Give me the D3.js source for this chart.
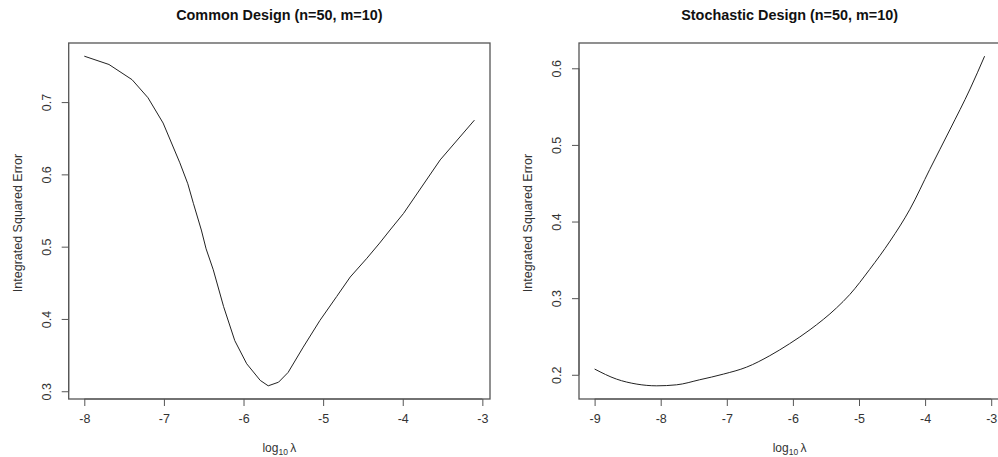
<!DOCTYPE html>
<html>
<head>
<meta charset="utf-8">
<script src="https://cdn.jsdelivr.net/npm/d3@7.9.0/dist/d3.min.js"></script>
<style>
  body { margin: 0; background: #fff; }
  svg { font-family: 'Liberation Sans', Arial, sans-serif; }
</style>
</head>
<body>
<svg id="chart"></svg>
<script>
// values (x = log10 lambda, y = integrated squared error)
const commonLambda = [-8.0, -7.69, -7.40, -7.20, -7.01, -6.80, -6.70, -6.63, -6.53, -6.47, -6.38, -6.25,
  -6.11, -5.96, -5.79, -5.69, -5.56, -5.44, -5.25, -5.04, -4.83, -4.66, -4.45, -4.29, -4.16, -3.99, -3.53, -3.10];
const commonISE = [0.7635, 0.752, 0.731, 0.706, 0.671, 0.616, 0.587, 0.560, 0.523, 0.497, 0.468, 0.417,
  0.370, 0.338, 0.315, 0.3075, 0.3125, 0.326, 0.361, 0.398, 0.431, 0.458, 0.484, 0.505, 0.523, 0.546, 0.620, 0.675];

const stochLambda = [-9.0, -8.67, -8.36, -8.06, -7.76, -7.41, -7.05, -6.70, -6.35, -6.05, -5.74, -5.34,
  -5.14, -4.84, -4.53, -4.23, -3.93, -3.62, -3.32, -3.10];
const stochISE = [0.2075, 0.1944, 0.1878, 0.1856, 0.1869, 0.1935, 0.2009, 0.2100, 0.2249, 0.2406, 0.2589, 0.2873,
  0.3047, 0.3374, 0.3745, 0.416, 0.468, 0.5207, 0.573, 0.6158];

const commonXTicks = [-8, -7, -6, -5, -4, -3];
const commonYTicks = [0.3, 0.4, 0.5, 0.6, 0.7];
const stochXTicks = [-9, -8, -7, -6, -5, -4, -3];
const stochYTicks = [0.2, 0.3, 0.4, 0.5, 0.6];

const titles = ['Common Design (n=50, m=10)', 'Stochastic Design (n=50, m=10)'];
const yLabel = 'Integrated Squared Error';

const width = 998;
const height = 457;

const svg = d3.select('#chart').attr('width', width).attr('height', height);

// R pads each axis by 4% of the data range
function padded(values) {
  const [lo, hi] = d3.extent(values);
  const pad = (hi - lo) * 0.04;
  return [lo - pad, hi + pad];
}

function drawPanel(opts) {
  const { left, right, top, bottom, xs, ys, xTicks, yTicks, title, curve } = opts;

  const x = d3.scaleLinear().domain(padded(xs)).range([left, right]);
  const y = d3.scaleLinear().domain(padded(ys)).range([bottom, top]);

  const g = svg.append('g');

  // plot box
  g.append('rect')
    .attr('x', left)
    .attr('y', top)
    .attr('width', right - left)
    .attr('height', bottom - top)
    .attr('fill', 'none')
    .attr('stroke', '#555')
    .attr('stroke-width', 1.3);

  // x axis below the box (plain hyphen minus, like R)
  const xAxis = g.append('g')
    .attr('transform', `translate(0, ${bottom})`)
    .call(d3.axisBottom(x).tickValues(xTicks).tickSize(7).tickPadding(8).tickFormat((d) => String(d)));
  xAxis.select('.domain')
    .attr('d', `M${x(xTicks[0])},0H${x(xTicks[xTicks.length - 1])}`)
    .attr('stroke', '#555');

  // y axis on the left, labels turned like R's las=0
  const yAxis = g.append('g')
    .attr('transform', `translate(${left}, 0)`)
    .call(d3.axisLeft(y).tickValues(yTicks).tickSize(7).tickFormat((d) => d.toFixed(1)));
  yAxis.select('.domain')
    .attr('d', `M0,${y(yTicks[0])}V${y(yTicks[yTicks.length - 1])}`)
    .attr('stroke', '#555');
  yAxis.selectAll('.tick text')
    .attr('x', null)
    .attr('text-anchor', 'middle')
    .attr('transform', 'translate(-22, 0) rotate(-90)')
    .attr('dy', '0.35em');

  [xAxis, yAxis].forEach((a) => {
    a.selectAll('.tick line').attr('stroke', '#555');
    a.selectAll('.tick text').attr('font-size', 12.5).attr('fill', '#333')
      .style('font-family', "'Liberation Sans', Arial, sans-serif");
  });

  // the curve
  const line = d3.line()
    .x((d, i) => x(xs[i]))
    .y((d) => y(d))
    .curve(curve);

  g.append('path')
    .datum(ys)
    .attr('d', line)
    .attr('fill', 'none')
    .attr('stroke', '#222')
    .attr('stroke-width', 1);

  const cx = (left + right) / 2;

  g.append('text')
    .attr('x', cx)
    .attr('y', 20)
    .attr('text-anchor', 'middle')
    .attr('font-size', 14.4)
    .attr('font-weight', 'bold')
    .attr('fill', '#111')
    .text(title);

  const xl = g.append('text')
    .attr('x', cx)
    .attr('y', 452)
    .attr('text-anchor', 'middle')
    .attr('font-size', 12)
    .attr('fill', '#333');
  xl.append('tspan').text('log');
  xl.append('tspan').attr('font-size', 8.5).attr('dy', 3).text('10');
  xl.append('tspan').attr('dy', -3).text('\u2009\u03bb');

  g.append('text')
    .attr('transform', `translate(${left - 47}, ${(top + bottom) / 2 + 2}) rotate(-90)`)
    .attr('text-anchor', 'middle')
    .attr('font-size', 12.5)
    .attr('fill', '#333')
    .text(yLabel);
}

drawPanel({
  left: 68.7, right: 490, top: 43, bottom: 399,
  xs: commonLambda, ys: commonISE,
  xTicks: commonXTicks, yTicks: commonYTicks,
  title: titles[0], curve: d3.curveLinear,
});

drawPanel({
  left: 579, right: 1000.2, top: 43, bottom: 399,
  xs: stochLambda, ys: stochISE,
  xTicks: stochXTicks, yTicks: stochYTicks,
  title: titles[1], curve: d3.curveMonotoneX,
});
</script>
</body>
</html>
